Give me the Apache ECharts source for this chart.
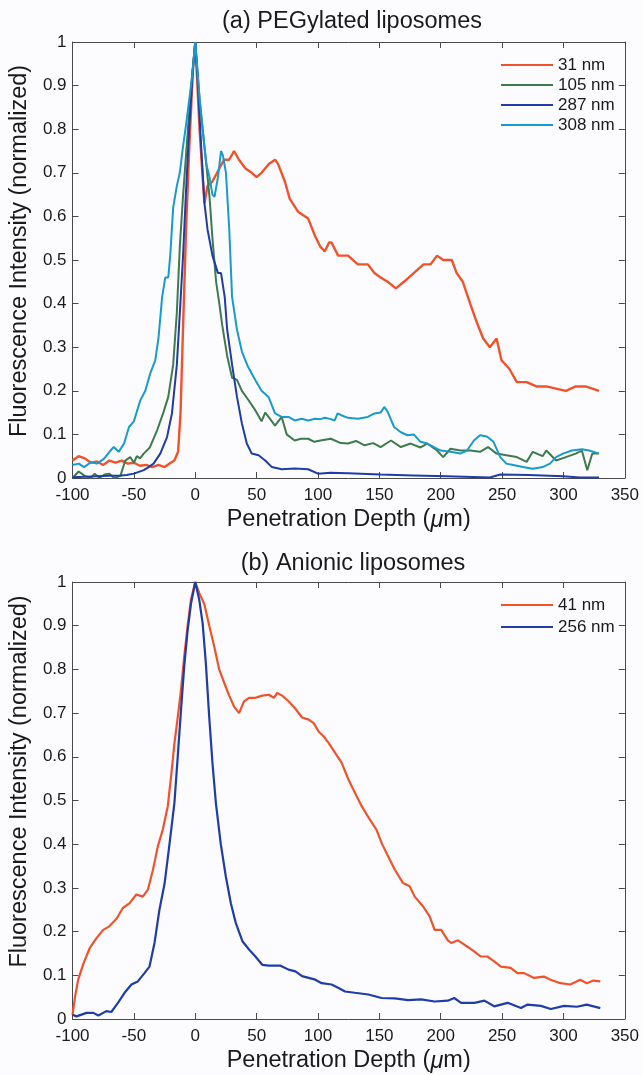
<!DOCTYPE html>
<html>
<head>
<meta charset="utf-8">
<script src="https://cdn.jsdelivr.net/npm/echarts@6/dist/echarts.min.js"></script>
<style>
html,body{margin:0;padding:0;background:#fcfcfe;}
#chart{width:642px;height:1075px;}
</style>
</head>
<body>
<div id="chart"></div>
<script>
// ---------- Data ----------
const titleA = "(a) PEGylated liposomes";
const titleB = "(b) Anionic liposomes";
const xName = "Penetration Depth ({i|\u03bc}m)";
const yName = "Fluorescence Intensity (normalized)";
const xTicks = [-100, -50, 0, 50, 100, 150, 200, 250, 300, 350];
const yTicks = [0, 0.1, 0.2, 0.3, 0.4, 0.5, 0.6, 0.7, 0.8, 0.9, 1];

// Panel (a)
const a31x = [-100,-95,-90,-85,-80,-75,-70,-65,-60,-55,-50,-45,-40,-35,-30,-25,-20,-17,-14,-12,-10,-7.5,-5,-2,0,3.5,6,7.5,10,14,19.6,23.5,27.6,31.6,35.6,41,46,50,54,60,65,67.5,73,77,84,92,97.6,102,105.6,109,111,116.4,124.5,132.5,140.6,146,151,156.7,163.5,170,178,186,191.7,197,202,209,213,218,224,229,234.6,240,245.5,249.5,256,262,270,278,286,294,302,310,318,329];
const a31y = [0.04,0.05,0.045,0.035,0.038,0.03,0.04,0.035,0.04,0.033,0.035,0.028,0.03,0.025,0.03,0.025,0.035,0.04,0.06,0.15,0.34,0.57,0.75,0.93,1.0,0.80,0.69,0.63,0.67,0.68,0.71,0.73,0.73,0.75,0.73,0.71,0.70,0.69,0.70,0.72,0.73,0.72,0.68,0.64,0.61,0.595,0.555,0.53,0.52,0.54,0.54,0.51,0.51,0.49,0.49,0.47,0.46,0.45,0.435,0.45,0.47,0.49,0.49,0.51,0.50,0.50,0.47,0.45,0.40,0.36,0.32,0.30,0.32,0.27,0.25,0.22,0.22,0.21,0.21,0.205,0.20,0.21,0.21,0.20];

const a105x = [-100,-95,-90,-85,-82,-78,-74,-70,-66,-61,-57,-53,-50,-47.6,-45,-42,-37,-31,-26,-22,-18,-15,-12.6,-10,-6,-3,0,3.5,6,9,11.6,14,17,19.6,22,26,30,34,38,43,49,54,57,59.7,65,70.4,74.5,81,86,92,97,102,110.5,118.6,124.5,131,138,145,151,159.5,167.5,175.5,183.5,189,197,202,208,216,224,232,238.5,245.5,253.5,262,270,275,283,286,294,302,310,315,319.4,323.5,329];
const a105y = [0.0,0.015,0.005,0.0,0.01,0.0,0.008,0.01,0.0,0.005,0.04,0.048,0.035,0.05,0.045,0.056,0.07,0.11,0.15,0.186,0.26,0.38,0.53,0.645,0.80,0.91,1.0,0.87,0.80,0.72,0.645,0.55,0.45,0.40,0.35,0.28,0.23,0.225,0.20,0.18,0.155,0.13,0.15,0.14,0.12,0.14,0.10,0.086,0.09,0.09,0.083,0.086,0.09,0.08,0.079,0.085,0.075,0.08,0.071,0.086,0.071,0.079,0.07,0.079,0.063,0.048,0.067,0.063,0.063,0.06,0.071,0.056,0.052,0.048,0.037,0.06,0.05,0.063,0.04,0.048,0.056,0.063,0.018,0.056,0.056];

const a287x = [-100,-90,-80,-70,-60,-56,-50,-42,-38,-34,-28.5,-23,-19,-15,-12.6,-10,-7.5,-4.8,-2,0,2,4.8,7.5,10,14,18.5,21,24,26,30,34,38,42,46,51.6,57,62.4,70.4,81,92,100,110,124.5,151,178,205,240,248.5,272,300,313,329];
const a287y = [0.002,0.003,0.004,0.005,0.006,0.007,0.01,0.018,0.025,0.033,0.056,0.094,0.148,0.26,0.377,0.507,0.66,0.81,0.935,1.0,0.91,0.76,0.63,0.57,0.51,0.47,0.47,0.415,0.34,0.26,0.186,0.125,0.079,0.056,0.052,0.04,0.025,0.02,0.022,0.02,0.01,0.012,0.011,0.008,0.006,0.004,0.001,0.008,0.007,0.004,0.001,0.001];

const a308x = [-100,-95,-90.6,-85,-80,-74.5,-69,-66.4,-62.4,-58,-54,-50,-44.8,-40.7,-36.7,-32.6,-30,-27,-24.4,-22,-20.4,-18,-15,-12.6,-10,-7.5,-3,0,3.5,6,9,11.6,14,15.7,18.5,21,22.5,25,27.7,30,34,38,43,49,54,59.7,65,70.4,76,81,86.7,92,97.6,102,105.6,110.5,113.6,116,119,124.5,132.5,140.6,146,151,154,156.7,162,167.5,173,178,183.5,189,194.5,200,208,216,221.5,227,232,237.6,243,248.5,253.5,259,267,275,283,289,294,299.6,307,315,321,329];
const a308y = [0.03,0.033,0.025,0.036,0.033,0.044,0.063,0.071,0.06,0.079,0.117,0.13,0.178,0.20,0.24,0.27,0.32,0.415,0.46,0.46,0.51,0.62,0.67,0.70,0.76,0.81,0.91,1.0,0.87,0.80,0.72,0.69,0.65,0.645,0.69,0.75,0.74,0.70,0.57,0.415,0.34,0.29,0.255,0.224,0.20,0.186,0.148,0.14,0.14,0.132,0.136,0.132,0.136,0.135,0.138,0.135,0.132,0.148,0.144,0.138,0.136,0.14,0.148,0.15,0.163,0.152,0.117,0.105,0.098,0.10,0.083,0.079,0.071,0.063,0.06,0.056,0.063,0.086,0.098,0.095,0.083,0.048,0.033,0.03,0.025,0.021,0.025,0.033,0.048,0.056,0.063,0.066,0.063,0.056];

// Panel (b)
const b41x = [-100,-98,-95.4,-91,-86,-80.5,-75,-70,-64,-59,-53.5,-48,-42.7,-38.6,-34.6,-30.5,-26.5,-22.4,-19.7,-17,-14.3,-11.6,-9,-6.2,-3.5,0,3.2,7.3,11.4,15.4,19.5,23.5,27.6,31.6,35.7,39.7,43.8,49,54.6,60,64,66.8,70.8,76,81.6,87,92.4,96.5,100.5,104.5,108.6,114,119.3,124.8,128.8,135.6,142.3,147.7,151.8,155.8,162.5,169.3,174.7,178.8,185.5,191,195,200.4,205.8,208.5,214,219.3,224.7,232.8,238,243.6,249,257,262.5,268,276,284,289.5,297.5,305.6,313.7,319,324.5,330];
const b41y = [0.01,0.05,0.09,0.128,0.162,0.185,0.204,0.212,0.23,0.254,0.265,0.285,0.28,0.296,0.34,0.395,0.433,0.487,0.555,0.63,0.69,0.754,0.83,0.90,0.96,1.0,0.975,0.95,0.90,0.853,0.80,0.77,0.74,0.715,0.70,0.727,0.735,0.735,0.74,0.742,0.735,0.746,0.74,0.727,0.71,0.69,0.685,0.677,0.658,0.647,0.632,0.609,0.586,0.548,0.525,0.487,0.456,0.433,0.403,0.38,0.342,0.311,0.304,0.28,0.258,0.235,0.204,0.204,0.18,0.174,0.18,0.17,0.16,0.143,0.143,0.132,0.12,0.117,0.105,0.105,0.094,0.097,0.09,0.082,0.079,0.09,0.082,0.088,0.086];

const b256x = [-100,-96.8,-88.6,-83,-79,-72.4,-68.4,-63,-57.6,-52,-46.8,-41.4,-37.3,-33.2,-29.2,-25,-21,-17,-14.3,-11.6,-9,-6.2,-3.5,0,3.2,6,8.6,11.4,14,16.8,20.8,24.9,29,33,38.4,43.8,49,54.6,60,65.4,69.5,76,81.6,87,92.4,97.8,103,111,116.8,122,130,141,151.8,162.5,173.4,184,195,205.8,211,216.6,227.5,235.6,243.6,254.5,265.4,270.8,281.6,289.7,300.5,311,319,330];
const b256y = [0.01,0.006,0.014,0.014,0.008,0.018,0.016,0.037,0.06,0.079,0.086,0.105,0.12,0.174,0.25,0.31,0.40,0.494,0.60,0.708,0.807,0.89,0.95,1.0,0.96,0.906,0.815,0.69,0.586,0.494,0.40,0.326,0.265,0.22,0.178,0.159,0.143,0.124,0.122,0.122,0.122,0.113,0.109,0.098,0.094,0.09,0.082,0.079,0.071,0.063,0.06,0.056,0.048,0.047,0.043,0.045,0.04,0.042,0.048,0.037,0.037,0.042,0.029,0.037,0.025,0.033,0.03,0.023,0.03,0.028,0.033,0.025];

const seriesA = [
  {name: "31 nm",  x: a31x,  y: a31y,  color: "#f2522b", width: 2.4},
  {name: "105 nm", x: a105x, y: a105y, color: "#3f7a4d", width: 2},
  {name: "287 nm", x: a287x, y: a287y, color: "#1f3ca8", width: 2},
  {name: "308 nm", x: a308x, y: a308y, color: "#189bcc", width: 2}
];
const seriesB = [
  {name: "41 nm",  x: b41x,  y: b41y,  color: "#f2522b", width: 2.2},
  {name: "256 nm", x: b256x, y: b256y, color: "#1f3ca8", width: 2.2}
];

// ---------- Chart ----------
const FONT = "Liberation Sans, Arial, Helvetica, sans-serif";
const AX = "#4a4a4a";
const TXT = "#1a1a1a";
const zip = (xs, ys) => xs.map((v, i) => [v, ys[i]]);

function xAxes(gi) {
  const base = {gridIndex: gi, type: "value", min: xTicks[0], max: xTicks[xTicks.length-1], interval: 50,
    splitLine: {show: false}, axisLine: {onZero: false, lineStyle: {color: AX, width: 1}},
    axisTick: {inside: true, length: 6, lineStyle: {color: AX}}};
  return [
    Object.assign({}, base, {position: "bottom", name: xName, nameLocation: "middle", nameGap: 30,
      nameTextStyle: {fontFamily: FONT, fontSize: 23.5, color: TXT,
        rich: {i: {fontFamily: FONT, fontSize: 23.5, fontStyle: "italic", color: TXT}}},
      axisLabel: {margin: 9, fontFamily: FONT, fontSize: 17, color: TXT}}),
    Object.assign({}, base, {position: "top", axisLabel: {show: false}})
  ];
}
function yAxes(gi, shift) {
  const base = {gridIndex: gi, type: "value", min: 0, max: 1, interval: 0.1,
    splitLine: {show: false}, axisLine: {onZero: false, lineStyle: {color: AX, width: 1}},
    axisTick: {inside: true, length: 6, lineStyle: {color: AX}}};
  return [
    Object.assign({}, base, {position: "left", name: yName, nameLocation: "middle", nameGap: 34,
      nameTextStyle: {fontFamily: FONT, fontSize: 23.5, color: TXT, padding: [0, 0, 0, shift]},
      axisLabel: {margin: 6, fontFamily: FONT, fontSize: 17, color: TXT}}),
    Object.assign({}, base, {position: "right", axisLabel: {show: false}})
  ];
}
function mkSeries(list, xi, yi) {
  return list.map(s => ({
    name: s.name, type: "line", xAxisIndex: xi, yAxisIndex: yi,
    data: zip(s.x, s.y), symbol: "none", smooth: false, animation: false,
    lineStyle: {color: s.color, width: s.width}, itemStyle: {color: s.color}
  }));
}

const chart = echarts.init(document.getElementById("chart"), null, {renderer: "canvas"});
chart.setOption({
  backgroundColor: "#fcfcfe",
  animation: false,
  title: [
    {text: titleA, left: 347, top: 5, textAlign: "center",
     textStyle: {fontFamily: FONT, fontSize: 23.5, fontWeight: "normal", color: TXT}},
    {text: titleB, left: 348, top: 547, textAlign: "center",
     textStyle: {fontFamily: FONT, fontSize: 23.5, fontWeight: "normal", color: TXT}}
  ],
  legend: [
    {data: seriesA.map(s => s.name), orient: "vertical", left: 496, top: 50,
     icon: "rect", itemWidth: 52, itemHeight: 2.2, itemGap: 0,
     textStyle: {fontFamily: FONT, fontSize: 17, color: TXT, lineHeight: 20}},
    {data: seriesB.map(s => s.name), orient: "vertical", left: 496, top: 589,
     icon: "rect", itemWidth: 52, itemHeight: 2.2, itemGap: 0,
     textStyle: {fontFamily: FONT, fontSize: 17, color: TXT, lineHeight: 22}}
  ],
  grid: [
    {left: 68, top: 42, width: 559, height: 436, containLabel: false},
    {left: 69, top: 582, width: 558, height: 437, containLabel: false}
  ],
  xAxis: [].concat(xAxes(0), xAxes(1)),
  yAxis: [].concat(yAxes(0, 18), yAxes(1, 38)),
  series: [].concat(mkSeries(seriesA, 0, 0), mkSeries(seriesB, 2, 2))
});
</script>
</body>
</html>
